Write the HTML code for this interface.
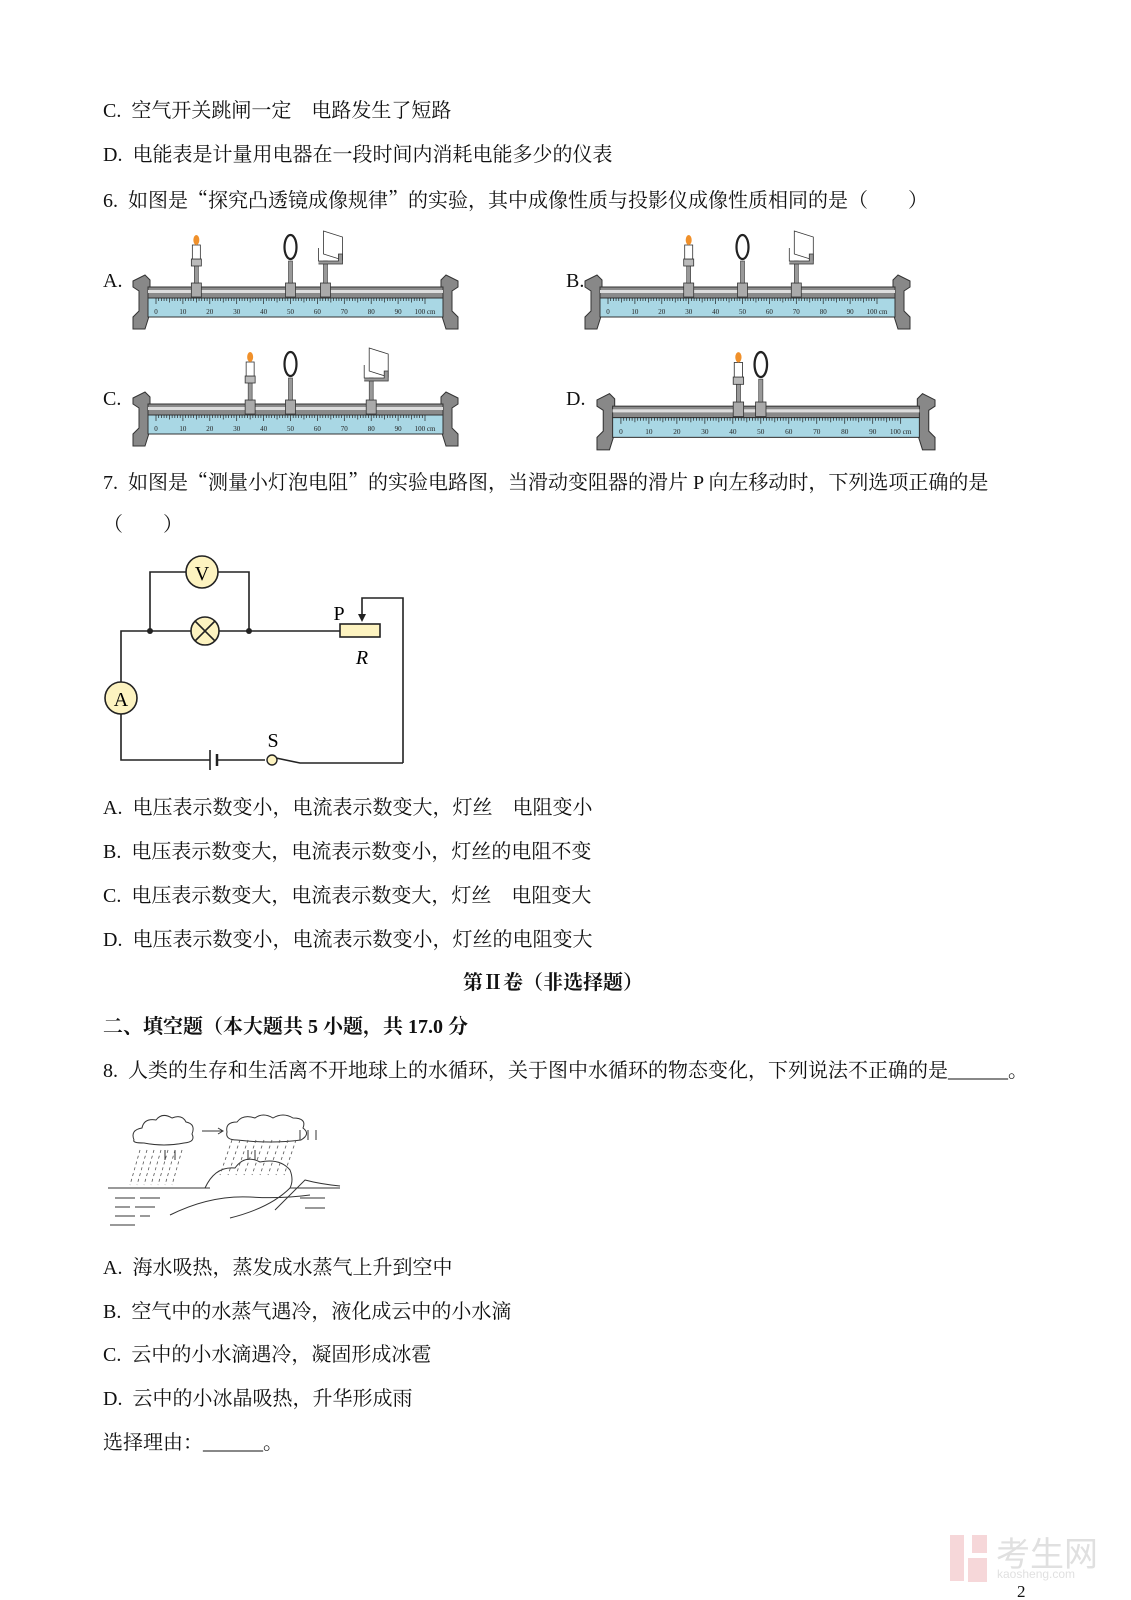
<!DOCTYPE html>
<html><head><meta charset="utf-8">
<style>
body{margin:0;background:#fff;}
#pg{position:relative;width:1131px;height:1600px;overflow:hidden;background:#fff;font-family:"Liberation Serif","Noto Serif CJK SC",serif;color:#111;font-size:20px;}
.t{position:absolute;white-space:pre;line-height:24px;}
.b{font-weight:bold;}
.q{font-family:"Noto Serif CJK SC",serif;}
svg{position:absolute;left:0;top:0;}
</style></head><body><div id="pg">
<div class="t" style="left:103px;top:99px">C.  空气开关跳闸一定　电路发生了短路</div>
<div class="t" style="left:103px;top:143px">D.  电能表是计量用电器在一段时间内消耗电能多少的仪表</div>
<div class="t" style="left:103px;top:187px">6.  如图是<span class="q">“</span>探究凸透镜成像规律<span class="q">”</span>的实验，其中成像性质与投影仪成像性质相同的是（　　）</div>
<div class="t" style="left:103px;top:269px">A.</div>
<div class="t" style="left:566px;top:269px">B.</div>
<div class="t" style="left:103px;top:387px">C.</div>
<div class="t" style="left:566px;top:387px">D.</div>
<div class="t" style="left:103px;top:469px">7.  如图是<span class="q">“</span>测量小灯泡电阻<span class="q">”</span>的实验电路图，当滑动变阻器的滑片 P 向左移动时，下列选项正确的是</div>
<div class="t" style="left:103px;top:513px">（　　）</div>
<div class="t" style="left:103px;top:796px">A.  电压表示数变小，电流表示数变大，灯丝　电阻变小</div>
<div class="t" style="left:103px;top:840px">B.  电压表示数变大，电流表示数变小，灯丝的电阻不变</div>
<div class="t" style="left:103px;top:884px">C.  电压表示数变大，电流表示数变大，灯丝　电阻变大</div>
<div class="t" style="left:103px;top:928px">D.  电压表示数变小，电流表示数变小，灯丝的电阻变大</div>
<div class="t b" style="left:463px;top:971px">第Ⅱ卷（非选择题）</div>
<div class="t b" style="left:103px;top:1015px">二、填空题（本大题共 5 小题，共 17.0 分</div>
<div class="t" style="left:103px;top:1059px">8.  人类的生存和生活离不开地球上的水循环，关于图中水循环的物态变化，下列说法不正确的是______。</div>
<div class="t" style="left:103px;top:1256px">A.  海水吸热，蒸发成水蒸气上升到空中</div>
<div class="t" style="left:103px;top:1300px">B.  空气中的水蒸气遇冷，液化成云中的小水滴</div>
<div class="t" style="left:103px;top:1343px">C.  云中的小水滴遇冷，凝固形成冰雹</div>
<div class="t" style="left:103px;top:1387px">D.  云中的小冰晶吸热，升华形成雨</div>
<div class="t" style="left:103px;top:1431px">选择理由：______。</div>
<div class="t" style="left:1017px;top:1580px;font-size:17px">2</div>

<svg width="1131" height="1600" id="sv">
<defs>
<g id="bench">
 <polygon points="0,48 12,42 17,47 17,80 12,96 0,96 0,84 6,78 6,58 0,54" fill="#888" stroke="#333" stroke-width="1"/>
 <polygon points="325,48 313,42 308,47 308,80 313,96 325,96 325,84 319,78 319,58 325,54" fill="#888" stroke="#333" stroke-width="1"/>
 <rect x="15" y="54" width="295" height="11" fill="#8a8a8a" stroke="#333" stroke-width="1"/>
 <rect x="15" y="57" width="295" height="3" fill="#ddd"/>
 <rect x="15" y="65" width="295" height="19" fill="#a9d7e4" stroke="#333" stroke-width="1"/>
 <g id="ticks" stroke="#222" stroke-width="0.7"></g>
 <g id="nums" font-family="Liberation Serif" font-size="7" fill="#222"></g>
</g>
</defs>
<g stroke="#222" stroke-width="1.6" fill="none">
 <polyline points="121,682 121,631 340,631"/>
 <polyline points="150,631 150,572 249,572 249,631"/>
 <polyline points="121,714 121,760 210,760"/>
 <line x1="218" y1="760" x2="265" y2="760"/>
 <polyline points="276,758 300,763 403,763"/>
 <polyline points="403,763 403,598 362,598 362,618"/>
 <line x1="210" y1="750" x2="210" y2="770"/>
 <line x1="217" y1="754" x2="217" y2="766" stroke-width="2.5"/>
</g>
<polygon points="358,614 366,614 362,622" fill="#222"/>
<circle cx="150" cy="631" r="3" fill="#222"/><circle cx="249" cy="631" r="3" fill="#222"/>
<circle cx="202" cy="572" r="16" fill="#fdf3c0" stroke="#222" stroke-width="1.6"/>
<text x="202" y="580" font-size="20" text-anchor="middle" font-family="Liberation Serif">V</text>
<circle cx="205" cy="631" r="14" fill="#fdf3c0" stroke="#222" stroke-width="1.6"/>
<path d="M195,621 L215,641 M215,621 L195,641" stroke="#222" stroke-width="1.6"/>
<circle cx="121" cy="698" r="16" fill="#fdf3c0" stroke="#222" stroke-width="1.6"/>
<text x="121" y="706" font-size="20" text-anchor="middle" font-family="Liberation Serif">A</text>
<rect x="340" y="624" width="40" height="13" fill="#fdf3c0" stroke="#222" stroke-width="1.6"/>
<text x="339" y="620" font-size="20" font-family="Liberation Serif" text-anchor="middle">P</text>
<text x="362" y="664" font-size="20" font-family="Liberation Serif" font-style="italic" text-anchor="middle">R</text>
<circle cx="272" cy="760" r="5" fill="#fdf3c0" stroke="#222" stroke-width="1.4"/>
<text x="273" y="747" font-size="20" font-family="Liberation Serif" text-anchor="middle">S</text>
<g stroke="#333" stroke-width="1" fill="none">
 <path d="M134,1140 q-4,-10 8,-12 q2,-10 14,-8 q6,-8 16,-2 q10,-4 14,4 q10,2 6,12 q4,8 -8,9 q-20,4 -40,0 q-12,0 -10,-3z"/>
 <path d="M227,1132 q-2,-10 10,-10 q6,-8 18,-4 q8,-6 18,0 q10,-6 20,0 q14,0 10,10 q8,6 -2,12 q-30,4 -64,0 q-12,0 -10,-8z"/>
 <path d="M202,1131 L222,1131" /><path d="M218,1128 L223,1131 L218,1134"/>
 <path d="M108,1188 L210,1188 M290,1188 L340,1188"/>
 <path d="M205,1188 q10,-22 30,-20 q10,-14 25,-6 q20,-4 30,8 q4,10 0,18 q-20,20 -60,30"/>
 <path d="M275,1210 q20,-20 30,-30 q15,4 35,6"/>
 <path d="M170,1215 q40,-20 80,-18 q30,2 60,-2"/>
 <path d="M115,1198 h20 M140,1198 h20 M115,1207 h15 M135,1207 h20 M115,1216 h20 M140,1216 h10 M110,1225 h25 M300,1198 h25 M305,1208 h20"/>
 <path d="M165,1160 v-10 M175,1160 v-10 M248,1160 v-10 M255,1160 v-10 M300,1140 v-10 M308,1140 v-10 M316,1140 v-10"/>
</g>
<g stroke="#555" stroke-width="0.8" stroke-dasharray="3,3">
 <path d="M140,1150 l-10,35 M147,1150 l-10,35 M154,1150 l-10,35 M161,1150 l-10,35 M168,1150 l-10,35 M175,1150 l-10,35 M182,1150 l-10,35"/>
 <path d="M232,1140 l-12,35 M240,1140 l-12,35 M248,1140 l-12,35 M256,1140 l-12,35 M264,1140 l-12,35 M272,1140 l-12,35 M280,1140 l-12,35 M288,1140 l-12,35 M296,1140 l-12,35"/>
</g>
<g opacity="0.9">
 <rect x="950" y="1535" width="14" height="46" fill="#f6d3d5"/>
 <rect x="972" y="1535" width="15" height="18" fill="#f6d3d5"/>
 <rect x="968" y="1558" width="19" height="24" fill="#f6d3d5"/>
 <text x="996" y="1566" font-size="34" fill="#ddd" font-family="Noto Sans CJK SC,sans-serif">考生网</text>
 <text x="997" y="1578" font-size="12" fill="#ddd" font-family="Liberation Sans">kaosheng.com</text>
</g>
<g id="benches"></g>
</svg>
<script>
(function(){
 var t="",n="";
 for(var i=0;i<=100;i++){var x=23+2.69*i;var l=i%10==0?6:(i%5==0?4.5:3);t+='<line x1="'+x+'" y1="65" x2="'+x+'" y2="'+(65+l)+'"/>';}
 for(var i=0;i<=100;i+=10){var x=23+2.69*i;n+='<text x="'+x+'" y="81" text-anchor="middle">'+i+(i==100?' cm':'')+'</text>';}
 document.getElementById('ticks').innerHTML=t;
 document.getElementById('nums').innerHTML=n;
 function P(p){return 23+2.69*p;}
 function holder(x){return '<rect x="'+(x-5)+'" y="50" width="10" height="14" fill="#aaa" stroke="#333" stroke-width="0.8"/><rect x="'+(x-2)+'" y="28" width="4" height="22" fill="#999" stroke="#333" stroke-width="0.6"/>';}
 function candle(p){var x=P(p);return holder(x)+'<rect x="'+(x-5)+'" y="26" width="10" height="7" fill="#bbb" stroke="#333" stroke-width="0.8"/><rect x="'+(x-4)+'" y="12" width="8" height="14" fill="#fff" stroke="#333" stroke-width="0.8"/><ellipse cx="'+x+'" cy="7" rx="3" ry="5" fill="#f0902a"/>';}
 function lens(p){var x=P(p);return holder(x)+'<ellipse cx="'+x+'" cy="14" rx="6" ry="12" fill="none" stroke="#222" stroke-width="2.2"/>';}
 function screen(p){var x=P(p);return holder(x)+'<polygon points="'+(x-2)+',-2 '+(x+17)+',4 '+(x+17)+',27 '+(x-2)+',21" fill="#fff" stroke="#333" stroke-width="0.8"/><path d="M'+(x-7)+',15 V28 H'+(x+13)+' V21 h4 V31 H'+(x-7)+'" fill="#999" stroke="#333" stroke-width="0.8"/>';}
 var B=[[133,233,1,[candle(15),lens(50),screen(63)]],[585,233,1,[candle(30),lens(50),screen(70)]],[133,350,1,[candle(35),lens(50),screen(80)]],[597,350,1.04,[candle(42),lens(50)]]];
 var s="";
 B.forEach(function(b){s+='<g transform="translate('+b[0]+','+b[1]+') scale('+b[2]+')"><use href="#bench"/>'+b[3].join('')+'</g>';});
 document.getElementById('benches').innerHTML=s;
})();
</script>
</div></body></html>
